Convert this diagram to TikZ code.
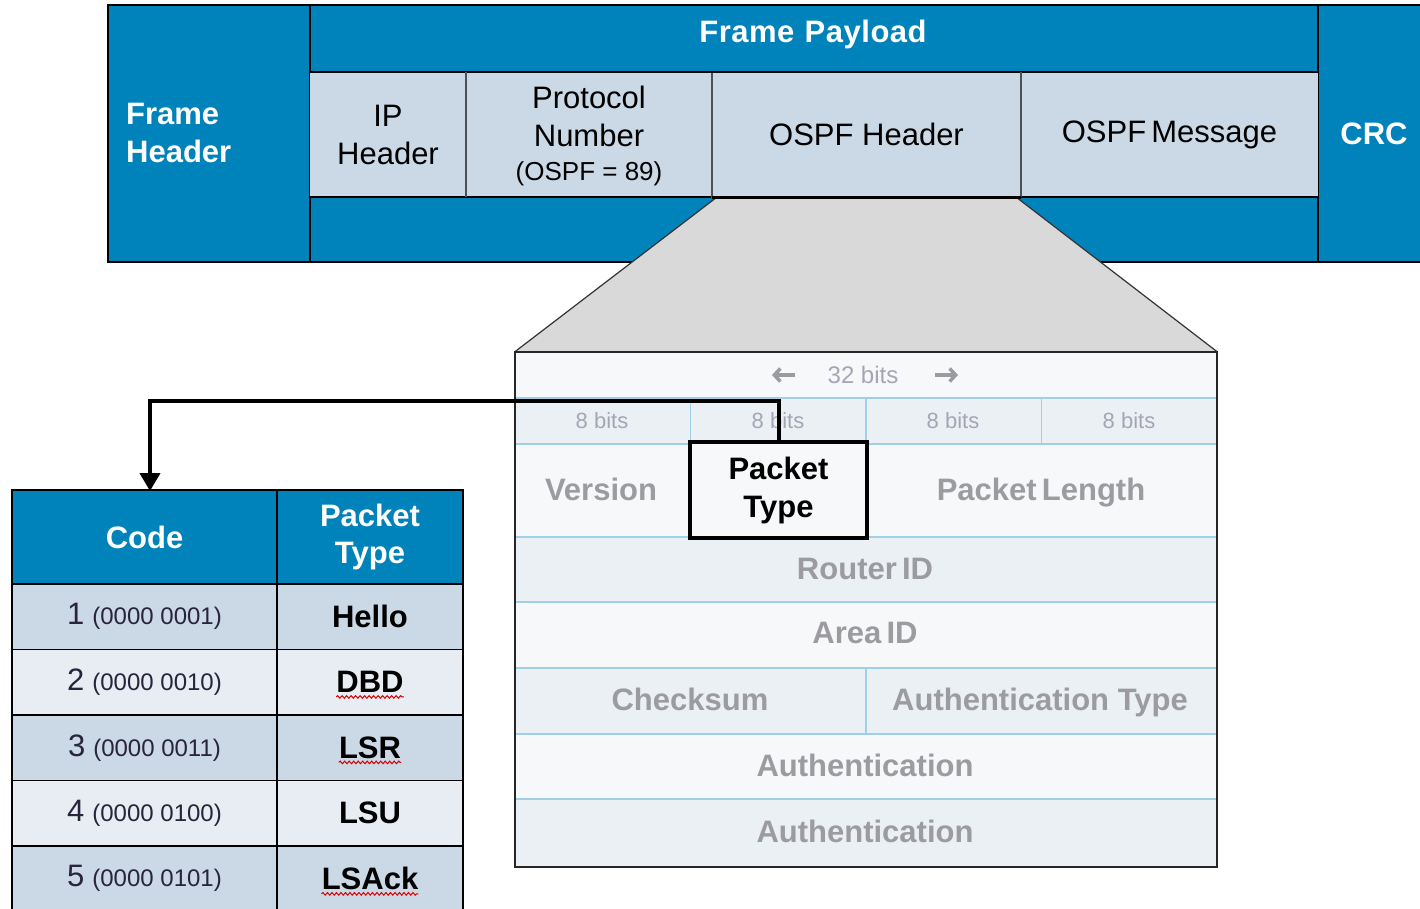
\documentclass[tikz,border=0pt]{standalone}
\usepackage{fontspec}
\setmainfont{Liberation Sans}
\usetikzlibrary{arrows.meta,decorations.pathmorphing}

\definecolor{frameblue}{RGB}{0,130,186}
\definecolor{cellgrey}{RGB}{203,216,230}
\definecolor{rowlight}{RGB}{232,237,243}
\definecolor{hdrpale}{RGB}{246,248,250}
\definecolor{hdrband}{RGB}{235,240,244}
\definecolor{ruleblue}{RGB}{160,208,232}
\definecolor{fieldtext}{RGB}{156,156,160}
\definecolor{bitstext}{RGB}{166,164,182}
\definecolor{fanfill}{RGB}{217,217,217}
\definecolor{divider}{RGB}{80,80,80}
\definecolor{codeink}{RGB}{40,36,60}

\newcommand\fsz[2]{\fontsize{#1}{#2}\selectfont}

\begin{document}
\begin{tikzpicture}[x=1pt,y=-1pt,
  bluecell/.style={fill=frameblue, draw=black, line width=1.5pt, inner sep=0pt,
                   text=white, font=\fsz{31}{37}\bfseries, align=center},
  paycell/.style={fill=cellgrey, inner sep=0pt, text=black,
                  font=\fsz{31}{38}, align=center},
  band/.style={fill=hdrband, inner sep=0pt, minimum width=702},
  field/.style={text=fieldtext, font=\fsz{31}{36}\bfseries, inner sep=0pt, text depth=0pt},
  bits/.style={text=bitstext, font=\fsz{22}{26}, inner sep=0pt, text depth=0pt},
  rule/.style={draw=ruleblue, line width=1.3pt},
  tabcell/.style={draw=black, line width=1.5pt, inner sep=0pt},
  codetxt/.style={inner sep=0pt, text=codeink, font=\fsz{31}{36}},
  typetxt/.style={inner sep=0pt, font=\fsz{31}{36}\bfseries},
  squiggle/.style={draw=red!85!black, line width=1pt, decorate,
                   decoration={snake, amplitude=1.3pt, segment length=4.5pt}},
  conn/.style={draw=black, line width=4pt, -{Triangle[length=18pt,width=20pt]}},
  fanedge/.style={draw=black!80, line width=1.2pt},
  bitarrow/.style={draw=fieldtext, line width=3.5pt, -{Straight Barb[length=6pt,width=13pt]}}
]
\useasboundingbox (0,0) rectangle (1420,909);

% ---------------- Ethernet frame ----------------
\node[bluecell, minimum width=202, minimum height=257] (fh) at (209,133.5) {};
\node[bluecell, minimum width=1008, minimum height=257] (pay) at (814,133.5) {};
\node[bluecell, minimum width=112, minimum height=257] (crc) at (1374,133.5) {CRC};
\node[anchor=west, align=left, inner sep=0pt, text=white, font=\fsz{31}{38}\bfseries]
  (fhtext) at (126,133) {Frame\\Header};
\node[anchor=base, inner sep=0pt, text=white, font=\fsz{31}{36}\bfseries]
  (paytext) at (813,43) {F\kern0.5pt r\kern0.5pt a\kern0.5pt m\kern0.5pt e\,\,P\kern0.5pt a\kern0.5pt y\kern0.5pt l\kern0.5pt o\kern0.5pt a\kern0.5pt d};

\node[paycell, minimum width=156, minimum height=125] (ip) at (388,134.5) {IP\\Header};
\node[paycell, minimum width=246, minimum height=125] (proto) at (589,135.5)
  {Protocol\\Number\\[-4pt]{\fsz{26}{30}(OSPF = 89)}};
\node[paycell, minimum width=309, minimum height=125] (ospfh) at (866.5,134.5) {OSPF Header};
\node[paycell, minimum width=297, minimum height=125] (ospfm) at (1169.5,134.5) {OSPF\,Message};

\draw[black, line width=1.5pt] (ip.north west) -- (ospfm.north east);
\draw[black, line width=1.5pt] (ip.south west) -- (ospfm.south east);
\draw[divider, line width=2pt] (ip.north east) -- (ip.south east);
\draw[divider, line width=2pt] (proto.north east) -- (proto.south east);
\draw[divider, line width=2pt] (ospfh.north east) -- (ospfh.south east);

% ---------------- OSPF header detail ----------------
\node[fill=hdrpale, inner sep=0pt, minimum width=702, minimum height=515] (ospfbox) at (866,609.5) {};

% fan from the OSPF header cell down to the detail box
\coordinate (fanl) at ([xshift=5pt]ospfh.south west);
\coordinate (fanr) at ([xshift=-5pt]ospfh.south east);
\fill[fanfill] (fanl) -- (fanr) -- (ospfbox.north east) -- (ospfbox.north west) -- cycle;
\draw[fanedge] (fanl) -- (ospfbox.north west);
\draw[fanedge] (fanr) -- (ospfbox.north east);
\draw[black, line width=3pt] (ospfh.south west) -- (ospfh.south east);

% shaded bands
\node[band, minimum height=46] (r1) at (866,421) {};
\node[band, minimum height=65] (r3) at (866,569.5) {};
\node[band, minimum height=66] (r5) at (866,701) {};
\node[band, minimum height=68] (r7) at (866,833) {};

% row and column rules
\foreach \yy in {398,444,537,602,668,734,799}
  \draw[rule] (515,\yy) -- (1217,\yy);
\foreach \xx in {690.5,866,1041.5}
  \draw[rule] (\xx,398) -- (\xx,444);
\draw[rule] (866,668) -- (866,734);

% field labels
\node[bits, font=\fsz{24}{28}] (b32) at (863,375) {32 bits};
\draw[bitarrow] (795,375) -- (772,375);
\draw[bitarrow] (935,375) -- (958,375);
\node[bits] (b1) at (602,421) {8 bits};
\node[bits] (b2) at (778,421) {8 bits};
\node[bits] (b3) at (953,421) {8 bits};
\node[bits] (b4) at (1129,421) {8 bits};

\node[field] (fver) at (601,489) {Version};
\node[field] (flen) at (1041,489) {Packet\,Length};
\node[field] (frid) at (865,569) {Router\,ID};
\node[field] (faid) at (865,633) {Area\,ID};
\node[field] (fchk) at (690,699) {Checksum};
\node[field] (faty) at (1040,699) {Authentication Type};
\node[field] (fau1) at (865,765) {Authentication};
\node[field] (fau2) at (865,831) {Authentication};

\draw[black!85, line width=1.5pt] (ospfbox.north west) rectangle (ospfbox.south east);

\node[draw=black, line width=4pt, fill=hdrpale, inner sep=0pt, minimum width=177,
      minimum height=96, align=center, font=\fsz{31}{38}\bfseries]
  (ptype) at (778.5,490) {Packet\\Type};

% ---------------- packet type table ----------------
\node[bluecell, minimum width=265, minimum height=94] (thcode) at (144.5,537) {Code};
\node[bluecell, minimum width=186, minimum height=94] (thtype) at (370,537) {Packet\\Type};

\node[tabcell, fill=cellgrey, minimum width=265, minimum height=65.5] (c1) at (144.5,616.75) {};
\node[tabcell, fill=cellgrey, minimum width=186, minimum height=65.5] (t1) at (370,616.75) {};
\node[tabcell, fill=rowlight, minimum width=265, minimum height=65.5] (c2) at (144.5,682.25) {};
\node[tabcell, fill=rowlight, minimum width=186, minimum height=65.5] (t2) at (370,682.25) {};
\node[tabcell, fill=cellgrey, minimum width=265, minimum height=65.5] (c3) at (144.5,747.75) {};
\node[tabcell, fill=cellgrey, minimum width=186, minimum height=65.5] (t3) at (370,747.75) {};
\node[tabcell, fill=rowlight, minimum width=265, minimum height=65.5] (c4) at (144.5,813.25) {};
\node[tabcell, fill=rowlight, minimum width=186, minimum height=65.5] (t4) at (370,813.25) {};
\node[tabcell, fill=cellgrey, minimum width=265, minimum height=65.5] (c5) at (144.5,878.75) {};
\node[tabcell, fill=cellgrey, minimum width=186, minimum height=65.5] (t5) at (370,878.75) {};

\node[codetxt] (k1) at (c1.center) {1\kern8pt{\fsz{24}{28}(0000 0001)}};
\node[codetxt] (k2) at (c2.center) {2\kern8pt{\fsz{24}{28}(0000 0010)}};
\node[codetxt] (k3) at (c3.center) {3\kern8pt{\fsz{24}{28}(0000 0011)}};
\node[codetxt] (k4) at (c4.center) {4\kern8pt{\fsz{24}{28}(0000 0100)}};
\node[codetxt] (k5) at (c5.center) {5\kern8pt{\fsz{24}{28}(0000 0101)}};

\node[typetxt] (p1) at (t1.center) {Hello};
\node[typetxt] (p2) at (t2.center) {DBD};
\node[typetxt] (p3) at (t3.center) {LSR};
\node[typetxt] (p4) at (t4.center) {LSU};
\node[typetxt] (p5) at (t5.center) {LSAck};

\draw[squiggle] ([yshift=-4pt]p2.base west) -- ([yshift=-4pt]p2.base east);
\draw[squiggle] ([yshift=-4pt]p3.base west) -- ([yshift=-4pt]p3.base east);
\draw[squiggle] ([yshift=-4pt]p5.base west) -- ([yshift=-4pt]p5.base east);

% ---------------- connector from the field to the table ----------------
\coordinate (codetop) at (150,491);
\draw[conn] (ptype.north) -- ++(0,-39) -| (codetop);

\end{tikzpicture}
\end{document}
